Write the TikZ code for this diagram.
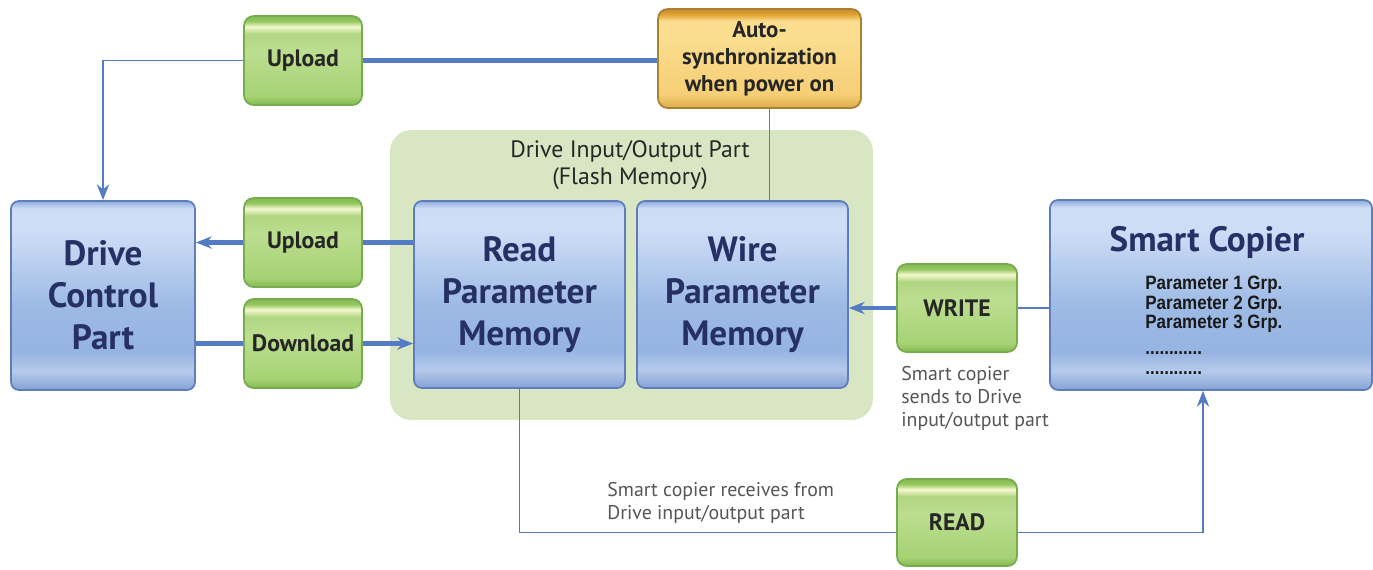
\documentclass[tikz,border=0pt]{standalone}
\usepackage{fontspec}
\setmainfont{PT Sans}
\newfontfamily\paramfont[FakeStretch=0.88]{Liberation Sans}
\usetikzlibrary{arrows.meta}

\definecolor{linkblue}{RGB}{84,124,194}
\definecolor{navy}{RGB}{38,48,100}
\definecolor{noteGray}{RGB}{85,85,85}
\definecolor{ioFill}{RGB}{217,230,195}
\definecolor{blueEdge}{RGB}{95,125,185}
\definecolor{greenEdge}{RGB}{118,172,78}
\definecolor{goldEdge}{RGB}{170,128,50}
% blue box stops
\definecolor{bA}{RGB}{132,162,212}
\definecolor{bB}{RGB}{182,202,236}
\definecolor{bC}{RGB}{150,180,225}
\definecolor{bD}{RGB}{157,186,229}
\definecolor{bE}{RGB}{206,221,246}
\definecolor{bF}{RGB}{142,170,220}
% green box stops
\definecolor{gA}{RGB}{132,186,82}
\definecolor{gB}{RGB}{166,210,116}
\definecolor{gC}{RGB}{188,222,144}
\definecolor{gD}{RGB}{176,214,130}
\definecolor{gE}{RGB}{246,248,208}
\definecolor{gF}{RGB}{150,200,98}
% gold box stops
\definecolor{oA}{RGB}{222,172,72}
\definecolor{oB}{RGB}{246,206,118}
\definecolor{oC}{RGB}{250,221,142}
\definecolor{oD}{RGB}{228,166,56}
\definecolor{oE}{RGB}{198,140,42}

\pgfdeclareverticalshading{blueshade}{100bp}{color(0bp)=(bA); color(25bp)=(bA);
  color(30bp)=(bB); color(35bp)=(bC); color(47bp)=(bD); color(67bp)=(bE);
  color(73bp)=(bE); color(75bp)=(bF); color(100bp)=(bF)}
\pgfdeclareverticalshading{greenshade}{100bp}{color(0bp)=(gA); color(25bp)=(gA);
  color(30bp)=(gB); color(55bp)=(gC); color(65bp)=(gD); color(69bp)=(gE);
  color(72bp)=(gF); color(75bp)=(gA); color(100bp)=(gA)}
\pgfdeclareverticalshading{goldshade}{100bp}{color(0bp)=(oA); color(25bp)=(oA);
  color(32bp)=(oB); color(60bp)=(oC); color(69bp)=(oC); color(72bp)=(oD);
  color(75bp)=(oE); color(100bp)=(oE)}

\tikzset{
  bluebox/.style={draw=blueEdge,line width=1pt,shading=blueshade,rounded corners=4.5pt,
    text=navy,align=center,font=\bfseries\fontsize{20}{24}\selectfont,inner sep=0pt},
  greenbox/.style={draw=greenEdge,line width=1pt,shading=greenshade,
    rounded corners=5.5pt,minimum width=2.36cm,minimum height=1.78cm,
    font=\bfseries\fontsize{13.5}{16}\selectfont,text=black!85},
  goldbox/.style={draw=goldEdge,line width=1pt,shading=goldshade,rounded corners=5.5pt,
    align=center,font=\bfseries\fontsize{13}{15.3}\selectfont,text=black!85},
  note/.style={align=left,text=noteGray,font=\fontsize{11.3}{13}\selectfont,inner sep=0pt},
  thinlink/.style={draw=linkblue,line width=1.1pt},
  thicklink/.style={draw=linkblue,line width=2.6pt},
  tip/.style={-{Stealth[length=9pt,width=7pt]}}
}

\begin{document}
\begin{tikzpicture}[x=0.02cm,y=-0.02cm]
  \useasboundingbox (0,0) rectangle (1373,569);

  \node[fill=ioFill,rounded corners=12pt,minimum width=9.66cm,minimum height=5.8cm] (io) at (631.5,275) {};
  \node[align=center,font=\fontsize{13.5}{15.5}\selectfont,text=black!85] (iotitle) at (630,165)
    {Drive Input/Output Part\\(Flash Memory)};

  \node[bluebox,minimum width=3.68cm,minimum height=3.78cm] (dcp) at (103,295.5) {Drive\\Control\\Part};
  \node[bluebox,minimum width=4.22cm,minimum height=3.74cm] (rpm) at (519.5,294.5) {Read\\Parameter\\Memory};
  \node[bluebox,minimum width=4.22cm,minimum height=3.74cm] (wpm) at (742.5,294.5) {Wire\\Parameter\\Memory};
  \node[bluebox,minimum width=6.44cm,minimum height=3.8cm] (sc) at (1211,295) {};
  \node[text=navy,font=\bfseries\fontsize{20}{24}\selectfont] (sctitle) at (1207,242) {Smart Copier};
  \node[anchor=north west,align=left,inner sep=0pt,font=\paramfont\bfseries\fontsize{11}{11}\selectfont,text=black!90]
    (params) at (1145,276) {Parameter 1 Grp.\\Parameter 2 Grp.\\Parameter 3 Grp.\\[4pt]............\\............};

  \node[goldbox,minimum width=4.06cm,minimum height=1.98cm] (auto) at (759.5,58.5) {Auto-\\synchronization\\when power on};

  \node[greenbox] (uptop) at (303,60.5) {Upload};
  \node[greenbox] (upmid) at (303,242.5) {Upload};
  \node[greenbox] (down) at (303,343.5) {Download};
  \node[greenbox,minimum width=2.4cm,minimum height=1.76cm] (write) at (957,308) {WRITE};
  \node[greenbox,minimum width=2.4cm,minimum height=1.74cm] (read) at (957,522.5) {READ};

  \node[note,anchor=north west] (sendnote) at (901,366) {Smart copier\\sends to Drive\\input/output part};
  \node[note,anchor=north west] (recvnote) at (607,482) {Smart copier receives from\\Drive input/output part};

  \draw[thinlink,tip] (uptop.west) -| (dcp.north);
  \draw[thicklink] (uptop.east) -- (uptop.east -| auto.west);
  \draw[thinlink] ([xshift=0.2cm]auto.south) -- ([xshift=0.2cm]auto.south |- wpm.north);

  \draw[thicklink] (rpm.west |- upmid) -- (upmid.east);
  \draw[thicklink,tip] (upmid.west) -- (upmid.west -| dcp.east);
  \draw[thicklink] (dcp.east |- down) -- (down.west);
  \draw[thicklink,tip] (down.east) -- (down.east -| rpm.west);

  \draw[thinlink] (sc.west |- write) -- (write.east);
  \draw[thicklink,tip] (write.west) -- (write.west -| wpm.east);

  \coordinate (readin) at ([xshift=-0.16cm]sc.south);
  \draw[thinlink] (rpm.south) |- ([yshift=-0.2cm]read.west);
  \draw[thinlink,tip] ([yshift=-0.2cm]read.east) -| (readin);
\end{tikzpicture}
\end{document}
